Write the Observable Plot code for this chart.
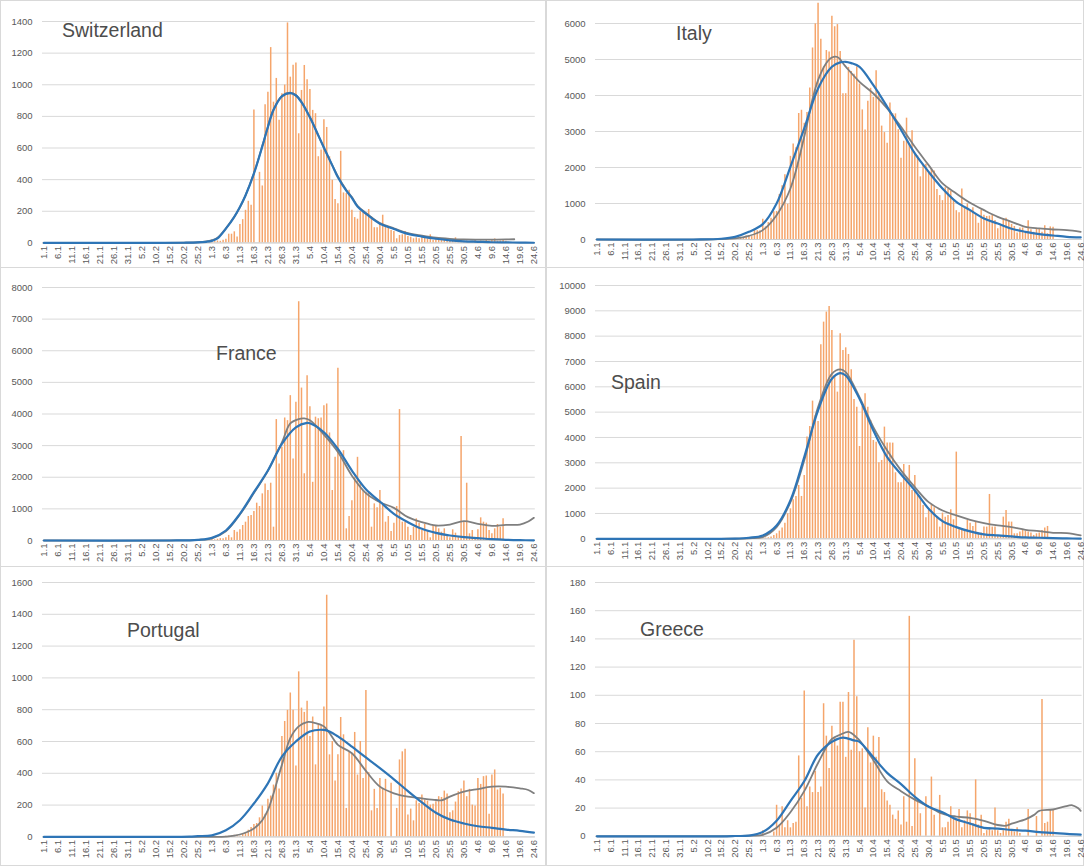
<!DOCTYPE html>
<html><head><meta charset="utf-8">
<script src="https://cdn.jsdelivr.net/npm/d3@7"></script>
<script src="https://cdn.jsdelivr.net/npm/@observablehq/plot@0.6"></script>
<style>
body{margin:0;background:#fff;}
#root{position:relative;width:1084px;height:866px;overflow:hidden;background:#fff;}
.title{position:absolute;font-family:"Liberation Sans",Arial,sans-serif;font-size:19.5px;color:#4d4d4d;white-space:nowrap;line-height:22px;}
.box{position:absolute;border:1px solid #d9d9d9;box-sizing:border-box;}
</style></head>
<body><div id="root"></div>
<script>
// ---- categories (1.1 .. 24.6, 2020) ----
const days = d3.timeDay.range(new Date(2020,0,1), new Date(2020,5,25));
const dayLabels = days.map(d => `${d.getDate()}.${d.getMonth()+1}`);
const tickDays = d3.range(0, 176, 5);

// ---- Switzerland ----
const chStart = 55;
const chBars = [1,0,1,2,5,6,8,12,10,17,23,55,55,70,38,116,147,206,263,238,840,0,446,360,873,953,1235,890,1040,775,943,998,1391,1048,1124,1137,690,964,1122,1031,970,838,817,545,587,779,730,545,396,274,248,579,316,312,333,206,160,150,200,196,181,211,164,96,96,121,175,104,96,79,72,26,47,51,72,40,36,26,32,26,32,40,26,51,15,20,15,15,20,10,15,12,32,10,18,10,12,8,10,15,8,12,10,15,10,20,25,10,12,15,10];
const chGray = [[0,0],[40,0],[50,1],[55,4],[58,9],[60,17],[62,33],[65,92],[68,165],[70,225],[72,300],[75,440],[78,612],[80,735],[82,842],[85,930],[88,950],[90,935],[92,890],[95,795],[98,680],[100,600],[103,490],[105,420],[108,335],[110,290],[112,235],[115,190],[120,125],[125,92],[130,62],[135,46],[140,33],[145,26],[150,22],[155,21],[160,21],[165,22],[168,23]];
const chBlue = [[0,0],[40,0],[50,1],[55,3],[58,7],[60,13],[62,28],[65,90],[68,165],[70,227],[72,300],[75,438],[78,610],[80,733],[82,840],[85,926],[88,947],[90,932],[92,890],[95,794],[98,680],[100,604],[103,490],[105,415],[108,330],[110,285],[112,230],[115,185],[120,121],[125,88],[130,57],[135,40],[140,26],[145,16],[150,10],[155,7],[160,4],[165,3],[170,2],[175,1]];

// ---- Italy ----
const itStart = 50;
const itBars = [20,15,60,50,95,90,80,250,240,240,560,350,470,590,770,780,1250,1490,1800,980,2310,2650,2550,3500,3590,3230,3530,4210,5320,5990,6560,5560,4790,5250,5210,6200,5910,5970,5220,4050,4050,4780,4670,4590,4800,4320,3600,3040,3840,4200,3950,4690,4090,3150,2970,2670,3790,3490,3490,3050,2260,2730,3370,2650,3020,2360,2320,1740,2090,2090,1870,1970,1900,1390,1220,1080,1440,1400,1330,1080,800,740,1400,890,990,790,880,680,450,810,670,640,650,670,530,300,400,580,590,520,420,360,180,320,320,180,520,270,200,280,280,200,380,160,350,340];
const itGray = [[0,0],[40,0],[50,30],[55,100],[60,260],[65,676],[70,1417],[75,2852],[78,3900],[80,4426],[83,4900],[85,5056],[87,5070],[90,4800],[95,4380],[100,4056],[105,3640],[110,3130],[115,2575],[120,2065],[125,1556],[130,1278],[135,1019],[140,815],[145,630],[150,491],[155,352],[160,306],[165,278],[170,260],[175,213]];
const itBlue = [[0,0],[35,0],[45,20],[50,74],[55,213],[60,426],[65,1000],[70,2019],[75,3084],[80,4195],[85,4797],[88,4920],[90,4936],[92,4900],[95,4797],[100,4287],[105,3685],[110,3050],[115,2390],[120,1880],[125,1417],[130,1046],[135,815],[140,583],[145,444],[150,300],[155,213],[160,148],[165,111],[170,74],[175,56]];

// ---- France ----
const frStart = 55;
const frBars = [5,15,5,20,15,40,20,40,60,53,85,160,85,316,263,337,474,579,758,790,916,1180,1074,1474,1790,1580,1811,421,3823,2421,2950,3874,3790,4580,2580,4370,7550,4820,2110,5210,4230,1840,3900,3850,3874,4264,4317,3400,1580,2630,5450,2630,2840,369,758,1260,2000,2630,1840,1580,1520,1500,421,1158,1032,1580,1105,579,758,284,548,1074,4140,579,579,421,158,421,684,548,316,505,316,84,474,474,369,263,369,179,84,337,232,105,3285,579,1811,211,316,105,337,716,579,548,316,211,369,505,421,684];
const frGray = [[0,0],[45,0],[52,5],[55,18],[60,70],[65,290],[70,820],[75,1500],[80,2200],[85,3100],[88,3700],[91,3840],[93,3860],[95,3800],[100,3350],[105,2800],[110,2050],[115,1500],[120,1211],[125,1032],[130,737],[135,579],[140,474],[145,505],[150,610],[155,527],[160,463],[165,495],[170,505],[173,600],[175,716]];
const frBlue = [[0,0],[45,0],[52,5],[55,20],[60,84],[65,316],[70,842],[75,1527],[80,2211],[85,3054],[90,3580],[94,3717],[95,3706],[100,3422],[105,2896],[110,2211],[115,1620],[120,1232],[125,842],[130,579],[135,369],[140,242],[145,158],[150,105],[155,74],[160,42],[165,21],[170,10],[175,5]];

// ---- Spain ----
const esStart = 55;
const esBars = [5,3,8,10,15,20,30,40,66,132,197,303,421,618,987,1184,1540,1671,2105,1671,2500,4014,4435,5435,4869,4632,7659,8554,8949,9172,8225,6409,5790,8093,7435,7540,7277,6672,5500,5198,3645,5224,5725,5198,4672,3882,3816,3000,3093,4409,3777,3777,3777,2606,2211,2211,2935,2435,2895,1908,2500,1711,1645,1316,829,1119,1355,1224,855,461,1013,855,921,1145,750,3422,395,329,329,724,618,487,658,197,224,461,461,1750,461,461,92,132,855,1119,658,658,197,197,263,329,303,263,224,132,197,224,329,421,487];
const esGray = [[0,0],[45,0],[55,20],[60,66],[65,460],[70,1447],[75,3093],[80,5200],[85,6514],[88,6685],[90,6580],[95,5590],[100,4409],[105,3487],[110,2700],[115,2040],[120,1447],[125,1119],[130,921],[135,750],[140,618],[145,526],[150,461],[155,355],[160,303],[165,237],[170,224],[175,132]];
const esBlue = [[0,0],[45,0],[50,5],[55,40],[60,132],[65,526],[70,1513],[75,3224],[80,5066],[85,6317],[88,6540],[90,6448],[95,5527],[100,4277],[105,3224],[110,2550],[115,1908],[120,1184],[125,697],[130,461],[135,290],[140,171],[145,132],[150,92],[155,53],[160,40],[165,25],[170,15],[175,5]];

// ---- Portugal ----
const ptStart = 60;
const ptBars = [0,0,2,0,2,4,4,6,10,10,4,17,25,42,59,78,84,120,194,143,236,257,326,400,301,632,726,796,905,796,446,1038,810,783,853,632,754,453,705,699,817,1520,516,600,352,516,751,642,179,533,522,657,389,600,368,920,404,164,299,179,368,299,362,0,337,0,179,484,535,551,137,175,101,227,210,263,231,225,200,206,221,253,248,288,269,152,164,219,284,301,352,253,299,200,194,368,330,379,383,143,389,421,295,305,269];
const ptGray = [[0,0],[45,0],[60,0],[65,2],[70,15],[75,53],[78,105],[80,168],[85,453],[88,621],[91,695],[94,722],[97,716],[100,695],[102,653],[105,579],[110,526],[115,415],[120,316],[125,274],[130,253],[135,242],[140,232],[142,230],[145,253],[150,284],[155,301],[160,316],[165,316],[170,305],[173,295],[175,275]];
const ptBlue = [[0,0],[45,0],[52,2],[55,5],[60,10],[65,42],[70,105],[75,210],[80,337],[85,505],[90,600],[95,663],[100,673],[102,663],[105,632],[110,568],[115,500],[120,432],[125,362],[130,288],[135,217],[140,152],[145,109],[150,84],[155,67],[160,57],[165,46],[170,38],[175,27]];

// ---- Greece ----
const grStart = 60;
const grBars = [4,0,0,0,3,22,8,21,6,11,6,9,10,57,27,103,21,35,31,46,31,35,94,71,48,78,70,64,95,95,56,102,61,139,99,60,62,20,77,52,71,56,70,33,31,25,22,15,12,18,8,28,10,156,7,55,25,16,0,28,0,42,15,0,29,6,6,10,21,12,11,19,6,11,18,16,9,40,8,15,2,4,6,4,20,4,2,4,10,12,4,3,6,2,0,0,19,0,0,14,0,97,9,10,19,19];
const grGray = [[0,0],[45,0],[55,0.5],[60,1],[65,6],[70,17],[75,32],[80,52],[85,69],[88,72],[91,74],[94,70],[95,68],[100,54],[105,39],[110,32],[115,26],[120,21],[125,16],[130,14],[135,13],[140,11],[145,8],[148,7.5],[150,9],[155,12],[158,15],[160,18],[165,19],[169,21],[172,22],[174,20],[175,18]];
const grBlue = [[0,0],[45,0],[50,0.2],[55,0.5],[60,3],[65,11],[70,25],[75,39],[80,58],[85,67],[89,70],[93,68],[95,67],[100,56],[105,45],[110,37],[115,28],[120,21],[125,17],[130,12],[135,9],[140,6],[145,5.5],[150,4.5],[155,4],[160,3],[165,2.4],[170,1.7],[175,1.2]];

const ORANGE = "#F5A56B", GRAY = "#7F7F7F", BLUE = "#2E75B6";
const root = document.getElementById("root");

// chart frames
[[0,0,546,268],[546,0,538,268],[0,267,546,300],[546,267,538,300],[0,566,546,300],[546,566,538,300]].forEach(([l,t,w,h])=>{
  const b=document.createElement("div");b.className="box";
  Object.assign(b.style,{left:l+"px",top:t+"px",width:w+"px",height:h+"px"});root.appendChild(b);
});

function panel(p){
  const ML=46, MR=3, MT=10, MB=30;
  const plotW = p.x1 - p.x0, plotH = p.yB - p.yT;
  const bars = p.bars.map((v,k)=>({i:p.start+k, v}));
  const yTicks = d3.range(0, p.yMax + p.yStep/2, p.yStep);
  const chart = Plot.plot({
    width: ML + plotW + MR, height: MT + plotH + MB,
    marginLeft: ML, marginRight: MR, marginTop: MT, marginBottom: MB,
    style:{fontFamily:"'Liberation Sans',Arial,sans-serif", fontSize:"9.5px", color:"#595959", background:"transparent", overflow:"visible"},
    x:{domain:[-0.5,175.5], axis:null, label:null},
    y:{domain:[0,p.yMax], axis:null, label:null},
    marks:[
      Plot.gridY(yTicks,{stroke:"#d9d9d9", strokeOpacity:1, strokeWidth:1}),
      Plot.ruleX(bars,{x:"i", y:"v", stroke:ORANGE, strokeWidth:1.5}),
      Plot.ruleY([0],{stroke:"#d0d0d0"}),
      Plot.line(p.gray,{x:d=>d[0], y:d=>d[1], stroke:GRAY, strokeWidth:1.8, curve:"catmull-rom"}),
      Plot.line(p.blue,{x:d=>d[0], y:d=>d[1], stroke:BLUE, strokeWidth:2.2, curve:"catmull-rom"}),
      Plot.axisY(yTicks,{tickSize:0, tickPadding:10, fill:"#595959", label:null, tickFormat:d=>String(d)}),
      Plot.axisX(tickDays,{tickFormat:i=>dayLabels[i], tickRotate:-90, tickSize:0, tickPadding:3, fill:"#595959", label:null})
    ]
  });
  chart.style.position="absolute";
  chart.style.left=(p.x0-ML)+"px";
  chart.style.top=(p.yT-MT)+"px";
  root.appendChild(chart);
  const t=document.createElement("div");t.className="title";t.textContent=p.title;
  t.style.left=p.tx+"px";t.style.top=(p.ty-11)+"px";root.appendChild(t);
}

const L = {x0:42.1, x1:534.9}, R = {x0:594.6, x1:1081.2};
panel({...L, yT:21.3, yB:242.7, yMax:1400, yStep:200, start:chStart, bars:chBars, gray:chGray, blue:chBlue, title:"Switzerland", tx:62, ty:30});
panel({...R, yT:23.3, yB:239.3, yMax:6000, yStep:1000, start:itStart, bars:itBars, gray:itGray, blue:itBlue, title:"Italy", tx:676, ty:33});
panel({...L, yT:287, yB:540, yMax:8000, yStep:1000, start:frStart, bars:frBars, gray:frGray, blue:frBlue, title:"France", tx:216, ty:353});
panel({...R, yT:285, yB:538.3, yMax:10000, yStep:1000, start:esStart, bars:esBars, gray:esGray, blue:esBlue, title:"Spain", tx:611, ty:382});
panel({...L, yT:582.3, yB:836.7, yMax:1600, yStep:200, start:ptStart, bars:ptBars, gray:ptGray, blue:ptBlue, title:"Portugal", tx:127, ty:630});
panel({...R, yT:581.9, yB:835.7, yMax:180, yStep:20, start:grStart, bars:grBars, gray:grGray, blue:grBlue, title:"Greece", tx:640, ty:629});
</script></body></html>
